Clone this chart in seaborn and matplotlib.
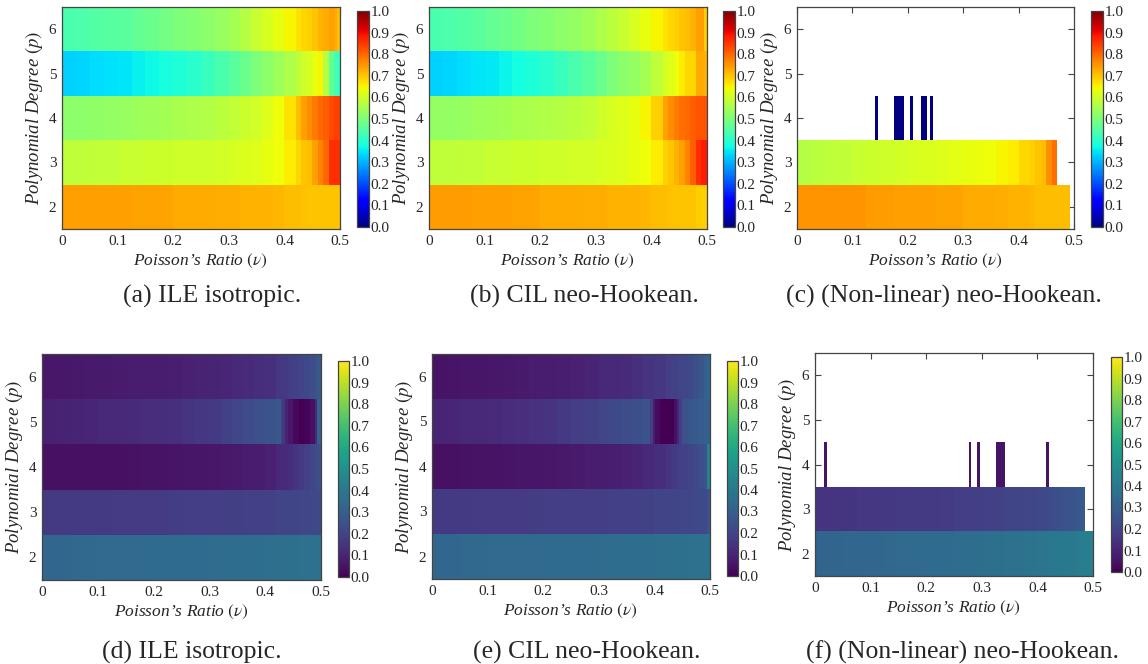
import numpy as np
import matplotlib
matplotlib.use("Agg")
import matplotlib.pyplot as plt
import seaborn as sns

nan = np.nan

# each value holds from its knot up to the next knot (last one up to 0.5)
NU_KNOTS = [0.000, 0.025, 0.050, 0.075, 0.100, 0.125, 0.150, 0.175, 0.200, 0.225, 0.250, 0.275,
            0.300, 0.320, 0.340, 0.360, 0.380, 0.400, 0.420, 0.430, 0.440, 0.450, 0.460, 0.470,
            0.480, 0.490, 0.495]
P_LEVELS = [6, 5, 4, 3, 2]          # rows, top to bottom
X_TICKS = [0.0, 0.1, 0.2, 0.3, 0.4, 0.5]
X_TICK_LABELS = ["0", "0.1", "0.2", "0.3", "0.4", "0.5"]
CBAR_TICKS = [0.0, 0.1, 0.2, 0.3, 0.4, 0.5, 0.6, 0.7, 0.8, 0.9, 1.0]
EMPTY = [nan] * len(NU_KNOTS)

# (a) ILE isotropic, jet
ile_jet = [
    [0.44, 0.445, 0.45, 0.455, 0.46, 0.47, 0.48, 0.49, 0.50, 0.51, 0.52, 0.535,
     0.55, 0.57, 0.59, 0.61, 0.63, 0.65, 0.67, 0.68, 0.69, 0.70, 0.72, 0.73, 0.74, 0.73, 0.71],
    [0.33, 0.335, 0.34, 0.345, 0.35, 0.36, 0.37, 0.38, 0.39, 0.40, 0.42, 0.44,
     0.46, 0.48, 0.50, 0.52, 0.54, 0.56, 0.58, 0.60, 0.61, 0.63, 0.65, 0.57, 0.47, 0.43, 0.42],
    [0.52, 0.52, 0.525, 0.53, 0.535, 0.54, 0.545, 0.55, 0.555, 0.56, 0.565, 0.575,
     0.585, 0.595, 0.605, 0.62, 0.64, 0.67, 0.71, 0.74, 0.76, 0.78, 0.80, 0.81, 0.83, 0.84, 0.84],
    [0.58, 0.58, 0.585, 0.585, 0.59, 0.59, 0.595, 0.595, 0.60, 0.60, 0.60, 0.605,
     0.61, 0.615, 0.62, 0.63, 0.64, 0.66, 0.68, 0.70, 0.71, 0.74, 0.77, 0.80, 0.86, 0.86, 0.86],
    [0.74, 0.74, 0.74, 0.74, 0.74, 0.735, 0.735, 0.735, 0.73, 0.73, 0.73, 0.725,
     0.725, 0.72, 0.72, 0.72, 0.715, 0.71, 0.71, 0.705, 0.70, 0.70, 0.70, 0.70, 0.70, 0.70, 0.70],
]
ile_jet_segments = []

# (b) CIL neo-Hookean, jet
cil_jet = [
    [0.44, 0.445, 0.45, 0.46, 0.47, 0.48, 0.49, 0.50, 0.51, 0.52, 0.53, 0.545,
     0.56, 0.575, 0.59, 0.61, 0.63, 0.65, 0.67, 0.68, 0.69, 0.70, 0.71, 0.72, 0.74, 0.74, 0.69],
    [0.33, 0.335, 0.34, 0.35, 0.355, 0.365, 0.375, 0.39, 0.40, 0.42, 0.44, 0.46,
     0.48, 0.50, 0.52, 0.53, 0.55, 0.58, 0.61, 0.62, 0.64, 0.66, 0.68, 0.68, 0.73, 0.73, 0.72],
    [0.53, 0.53, 0.535, 0.54, 0.545, 0.55, 0.555, 0.56, 0.565, 0.57, 0.575, 0.585,
     0.60, 0.61, 0.62, 0.63, 0.65, 0.69, 0.74, 0.76, 0.78, 0.79, 0.80, 0.81, 0.82, 0.82, 0.82],
    [0.58, 0.58, 0.585, 0.585, 0.59, 0.59, 0.595, 0.595, 0.60, 0.60, 0.605, 0.605,
     0.61, 0.615, 0.62, 0.63, 0.64, 0.66, 0.69, 0.70, 0.72, 0.74, 0.77, 0.81, 0.86, 0.88, 0.88],
    [0.745, 0.745, 0.745, 0.74, 0.74, 0.74, 0.735, 0.735, 0.73, 0.73, 0.73, 0.725,
     0.725, 0.72, 0.72, 0.72, 0.715, 0.71, 0.71, 0.705, 0.70, 0.70, 0.70, 0.70, 0.695, 0.69, 0.69],
]
cil_jet_segments = []

# (c) non-linear neo-Hookean, jet
nl_jet = [
    EMPTY,
    EMPTY,
    EMPTY,
    [0.57, 0.575, 0.58, 0.585, 0.59, 0.595, 0.60, 0.605, 0.61, 0.615, 0.62, 0.625,
     0.63, 0.635, 0.64, 0.65, 0.66, 0.68, 0.69, 0.70, 0.71, 0.76, 0.79, nan, nan, nan, nan],
    [0.75, 0.75, 0.75, 0.75, 0.75, 0.745, 0.745, 0.74, 0.74, 0.74, 0.735, 0.735,
     0.73, 0.73, 0.73, 0.725, 0.72, 0.72, 0.715, 0.71, 0.71, 0.71, 0.71, 0.71, 0.71, 0.71, nan],
]
# (p, nu_from, nu_to, value)
nl_jet_segments = [
    (4, 0.140, 0.146, 0.0), (4, 0.1755, 0.194, 0.0), (4, 0.204, 0.209, 0.0),
    (4, 0.224, 0.234, 0.0), (4, 0.240, 0.245, 0.0),
    (3, 0.469, 0.5, nan), (2, 0.492, 0.5, nan),
]

# (d) ILE isotropic, viridis
ile_vir = [
    [0.06, 0.062, 0.065, 0.067, 0.07, 0.072, 0.075, 0.077, 0.08, 0.085, 0.09, 0.095,
     0.10, 0.105, 0.11, 0.12, 0.13, 0.14, 0.16, 0.17, 0.18, 0.19, 0.20, 0.22, 0.24, 0.26, 0.28],
    [0.09, 0.095, 0.10, 0.105, 0.11, 0.115, 0.12, 0.125, 0.13, 0.14, 0.15, 0.16,
     0.17, 0.19, 0.21, 0.23, 0.245, 0.255, 0.27, 0.16, 0.06, 0.02, 0.0, 0.01, 0.04, 0.12, 0.30],
    [0.04, 0.04, 0.04, 0.04, 0.04, 0.042, 0.045, 0.047, 0.05, 0.052, 0.055, 0.057,
     0.06, 0.065, 0.07, 0.075, 0.08, 0.09, 0.11, 0.12, 0.13, 0.15, 0.17, 0.19, 0.21, 0.23, 0.24],
    [0.17, 0.17, 0.17, 0.17, 0.17, 0.172, 0.175, 0.175, 0.175, 0.178, 0.18, 0.18,
     0.18, 0.185, 0.185, 0.19, 0.19, 0.195, 0.20, 0.20, 0.20, 0.205, 0.21, 0.21, 0.215, 0.22, 0.22],
    [0.33, 0.332, 0.335, 0.337, 0.34, 0.34, 0.34, 0.342, 0.345, 0.345, 0.345, 0.347,
     0.35, 0.35, 0.352, 0.355, 0.355, 0.36, 0.36, 0.362, 0.365, 0.365, 0.37, 0.37, 0.37, 0.375, 0.375],
]
ile_vir_segments = [(5, 0.428, 0.43, 0.20), (5, 0.435, 0.44, 0.10), (5, 0.493, 0.495, 0.30)]

# (e) CIL neo-Hookean, viridis
cil_vir = [
    [0.05, 0.052, 0.055, 0.057, 0.06, 0.065, 0.07, 0.075, 0.08, 0.085, 0.09, 0.10,
     0.11, 0.115, 0.12, 0.14, 0.15, 0.16, 0.18, 0.19, 0.20, 0.21, 0.22, 0.24, 0.27, 0.30, 0.32],
    [0.10, 0.105, 0.11, 0.115, 0.12, 0.127, 0.135, 0.142, 0.15, 0.165, 0.18, 0.195,
     0.21, 0.22, 0.23, 0.24, 0.25, 0.03, 0.0, 0.0, 0.10, 0.25, 0.27, 0.28, 0.29, 0.30, 0.30],
    [0.04, 0.042, 0.045, 0.047, 0.05, 0.052, 0.055, 0.057, 0.06, 0.065, 0.07, 0.075,
     0.08, 0.085, 0.09, 0.10, 0.11, 0.13, 0.15, 0.165, 0.18, 0.19, 0.20, 0.22, 0.24, 0.25, 0.45],
    [0.17, 0.17, 0.17, 0.172, 0.175, 0.175, 0.175, 0.178, 0.18, 0.18, 0.18, 0.182,
     0.185, 0.19, 0.19, 0.19, 0.195, 0.20, 0.20, 0.205, 0.205, 0.21, 0.21, 0.215, 0.22, 0.22, 0.25],
    [0.33, 0.332, 0.335, 0.337, 0.34, 0.34, 0.34, 0.342, 0.345, 0.345, 0.345, 0.347,
     0.35, 0.35, 0.352, 0.355, 0.355, 0.36, 0.36, 0.362, 0.365, 0.365, 0.37, 0.37, 0.37, 0.375, 0.375],
]
cil_vir_segments = [(5, 0.392, 0.397, 0.18), (5, 0.397, 0.401, 0.08), (5, 0.41, 0.42, 0.0),
                    (5, 0.435, 0.44, 0.04), (5, 0.445, 0.45, 0.18)]

# (f) non-linear neo-Hookean, viridis
nl_vir = [
    EMPTY,
    EMPTY,
    EMPTY,
    [0.15, 0.152, 0.155, 0.157, 0.16, 0.162, 0.165, 0.167, 0.17, 0.175, 0.18, 0.185,
     0.19, 0.195, 0.20, 0.205, 0.21, 0.22, 0.23, 0.24, 0.245, 0.25, 0.26, 0.27, 0.28, nan, nan],
    [0.32, 0.322, 0.325, 0.327, 0.33, 0.335, 0.34, 0.342, 0.345, 0.347, 0.35, 0.355,
     0.36, 0.365, 0.37, 0.375, 0.38, 0.39, 0.395, 0.40, 0.40, 0.405, 0.41, 0.415, 0.42, 0.425, 0.43],
]
nl_vir_segments = [
    (4, 0.016, 0.0216, 0.05), (4, 0.277, 0.281, 0.05), (4, 0.291, 0.296, 0.05),
    (4, 0.326, 0.341, 0.05), (4, 0.416, 0.421, 0.05),
    (3, 0.486, 0.5, nan),
]

CAPTIONS = ["(a) ILE isotropic.", "(b) CIL neo-Hookean.", "(c) (Non-linear) neo-Hookean.",
            "(d) ILE isotropic.", "(e) CIL neo-Hookean.", "(f) (Non-linear) neo-Hookean."]

STEP = 0.001
N_COLS = int(round(0.5 / STEP))


def build_grid(rows, segments):
    centers = (np.arange(N_COLS) + 0.5) * STEP
    idx = np.searchsorted(NU_KNOTS, centers, side="right") - 1
    grid = np.array(rows, dtype=float)[:, idx]
    for p, lo, hi, v in segments:
        r = P_LEVELS.index(p)
        grid[r, (centers >= lo) & (centers < hi)] = v
    return grid


sns.set_style("ticks")
plt.rcParams["font.family"] = ["Liberation Serif", "DejaVu Serif"]
plt.rcParams["mathtext.fontset"] = "stix"

W, H = 1148, 664
fig = plt.figure(figsize=(W / 100, H / 100), dpi=100)


def px(l, t, r, b):
    return [l / W, 1 - b / H, (r - l) / W, (b - t) / H]


panels = [
    (ile_jet, ile_jet_segments, "jet", (62, 7, 340, 229), (357, 11, 369, 227), 212, 296),
    (cil_jet, cil_jet_segments, "jet", (429, 7, 707, 229), (723, 11, 735, 227), 584, 296),
    (nl_jet, nl_jet_segments, "jet", (797, 7, 1074, 229), (1091, 11, 1103, 227), 944, 296),
    (ile_vir, ile_vir_segments, "viridis", (42, 354, 321, 580), (338, 361, 349, 577), 192, 652),
    (cil_vir, cil_vir_segments, "viridis", (432, 354, 710, 579), (727, 361, 738, 576), 587, 652),
    (nl_vir, nl_vir_segments, "viridis", (815, 353, 1093, 576), (1111, 357, 1122, 572), 962, 652),
]

edge = "#444444"
for (rows, segs, cmap, axr, caxr, cx, cy), caption in zip(panels, CAPTIONS):
    ax = fig.add_axes(px(*axr))
    cax = fig.add_axes(px(*caxr))
    grid = build_grid(rows, segs)
    sns.heatmap(grid, ax=ax, cbar_ax=cax, cmap=cmap, vmin=0, vmax=1,
                xticklabels=False, yticklabels=False)
    for s in ax.spines.values():
        s.set_visible(True)
        s.set_color(edge)
        s.set_linewidth(0.9)
    ax.set_xticks([x / STEP for x in X_TICKS])
    ax.set_xticklabels(X_TICK_LABELS)
    ax.set_yticks(np.arange(len(P_LEVELS)) + 0.5)
    ax.set_yticklabels([str(p) for p in P_LEVELS], rotation=0)
    ax.tick_params(direction="in", length=4, width=0.8, color=edge, top=True, right=True,
                   labelsize=11, pad=4)
    ax.set_xlabel("Poisson’s Ratio $(\\nu)$", fontsize=12.5, style="italic", labelpad=3)
    ax.set_ylabel("Polynomial Degree $(p)$", fontsize=13.5, style="italic", labelpad=3)

    cb = ax.collections[0].colorbar
    cb.outline.set_visible(True)
    cb.outline.set_linewidth(0.9)
    cb.outline.set_edgecolor(edge)
    cb.set_ticks(CBAR_TICKS)
    cb.set_ticklabels([f"{t:.1f}" for t in CBAR_TICKS])
    cb.ax.tick_params(direction="in", length=3, width=0.8, color=edge, labelsize=11, pad=1)

    fig.text(cx / W, 1 - cy / H, caption, ha="center", va="center", fontsize=18.5)

fig.savefig("out.png", dpi=100)
